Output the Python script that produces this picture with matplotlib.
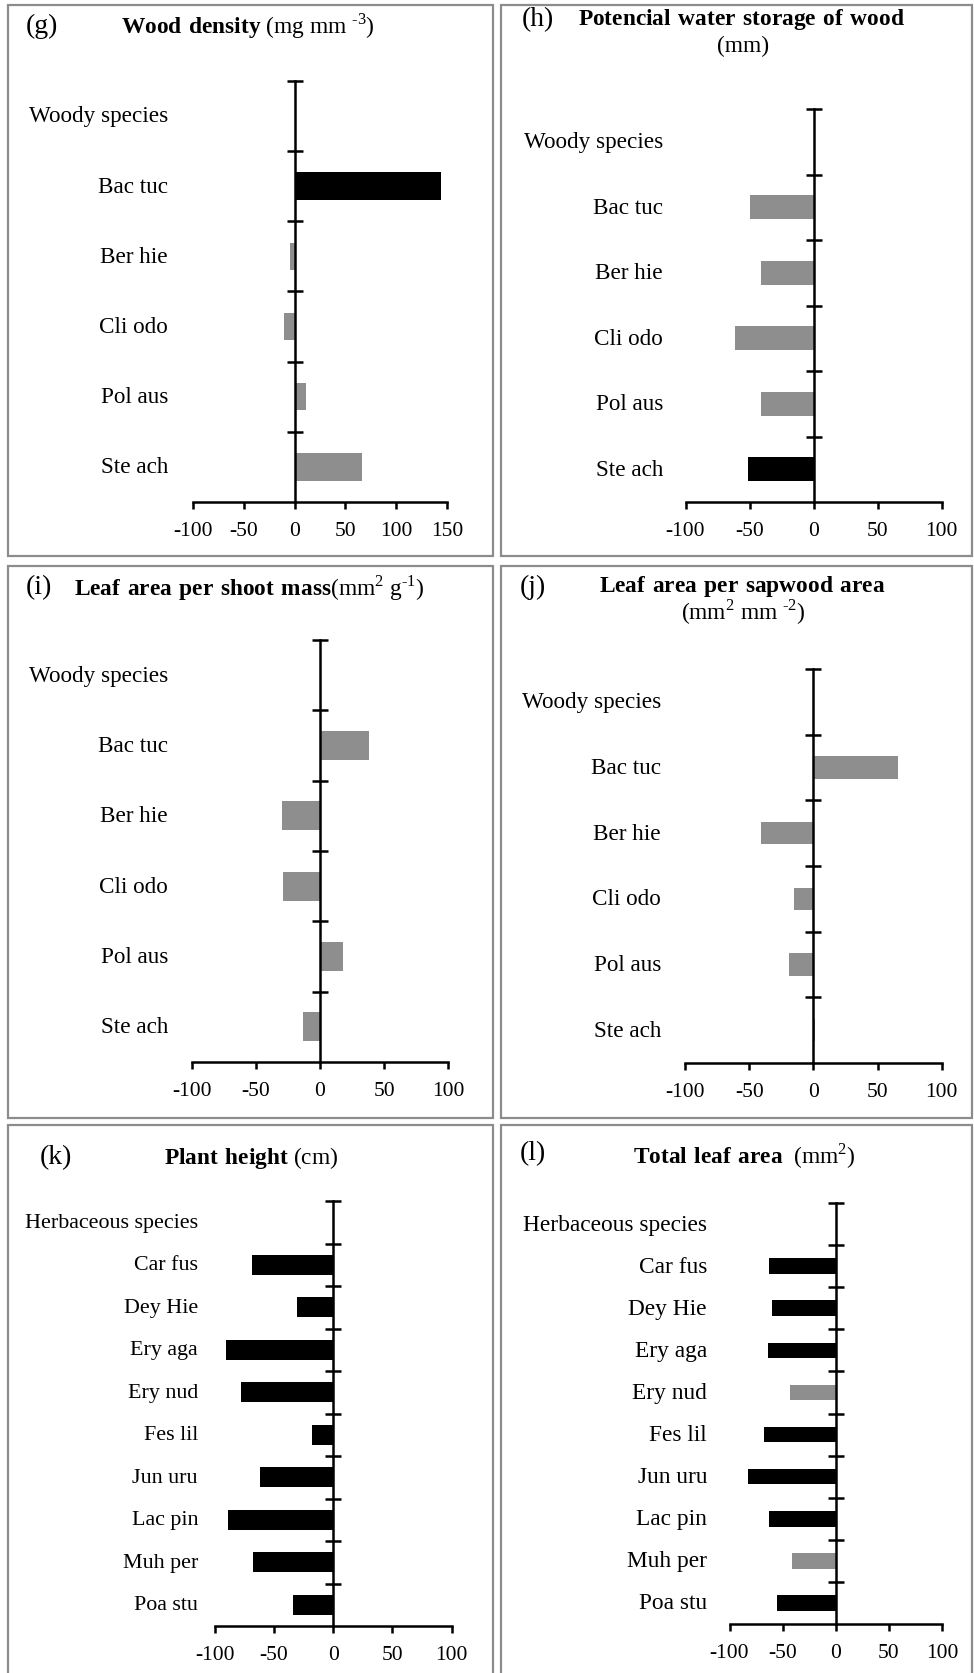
import matplotlib.pyplot as plt
from matplotlib.patches import Rectangle
from matplotlib.transforms import blended_transform_factory

plt.rcParams['font.family'] = ['Liberation Serif', 'DejaVu Serif']
plt.rcParams['mathtext.fontset'] = 'custom'
plt.rcParams['mathtext.rm'] = 'Liberation Serif'
plt.rcParams['mathtext.bf'] = 'Liberation Serif:bold'
plt.rcParams['axes.unicode_minus'] = False

W, H = 974, 1674
BLACK = '#000000'
GRAY = '#8e8e8e'

# species
woody = ["Bac tuc", "Ber hie", "Cli odo", "Pol aus", "Ste ach"]
herbs = ["Car fus", "Dey Hie", "Ery aga", "Ery nud", "Fes lil",
         "Jun uru", "Lac pin", "Muh per", "Poa stu"]

# values (%) and which bars are significant (drawn black)
wood_density = [144, -4.5, -10, 11.5, 66]
wood_density_sig = [1, 0, 0, 0, 0]
water_storage = [-50, -41, -61, -41, -51.5]
water_storage_sig = [0, 0, 0, 0, 1]
leaf_shoot = [38, -30, -29, 18, -13]
leaf_shoot_sig = [0, 0, 0, 0, 0]
leaf_sapwood = [66, -41, -15, -19, 1]
leaf_sapwood_sig = [0, 0, 0, 0, 0]
plant_height = [-69, -31, -90.5, -78, -18, -62, -89, -67.5, -34]
plant_height_sig = [1, 1, 1, 1, 1, 1, 1, 1, 1]
total_leaf = [-62.5, -60, -64, -43.5, -68, -83, -62.5, -41.5, -55.5]
total_leaf_sig = [1, 1, 1, 0, 1, 1, 1, 0, 1]


def box(fig, x0, y0, x1, y1):
    fig.add_artist(Rectangle((x0 / W, 1 - y1 / H), (x1 - x0) / W, (y1 - y0) / H,
                             transform=fig.transFigure, fill=False,
                             ec='#8c8c8c', lw=1.6, clip_on=False))


def panel(fig, rect, header, species, values, sig, xmax, bar_h, label_right, fs):
    x0, x1, y0, y1 = rect
    ax = fig.add_axes([x0 / W, 1 - y1 / H, (x1 - x0) / W, (y1 - y0) / H])
    n = len(species) + 1
    pos = list(range(1, n))
    colors = [BLACK if s else GRAY for s in sig]
    ax.barh(pos, values, height=bar_h, color=colors, zorder=1)
    ax.set_xlim(-100, xmax)
    ax.set_ylim(n - 0.5, -0.5)
    for s in ['top', 'right']:
        ax.spines[s].set_visible(False)
    ax.spines['left'].set_position(('data', 0))
    ax.spines['left'].set_zorder(3)
    for s in ['left', 'bottom']:
        ax.spines[s].set_linewidth(1.8)
    ax.set_yticks([i - 0.5 for i in range(n)])
    ax.set_yticklabels([])
    ax.tick_params(axis='y', direction='inout', length=11, width=1.8)
    ax.set_xticks(list(range(-100, xmax + 1, 50)))
    ax.tick_params(axis='x', direction='out', length=5, width=1.8,
                   labelsize=15.5, pad=9)
    ax.patch.set_visible(False)

    tr = blended_transform_factory(ax.transAxes, ax.transData)
    lx = (label_right - x0) / (x1 - x0)
    for i, name in enumerate([header] + species):
        ax.text(lx, i, name, transform=tr, ha='right', va='center',
                fontsize=fs, clip_on=False)
    return ax


def title(fig, x, y, s, **kw):
    fig.text(x / W, 1 - y / H, s, ha='center', va='center', fontsize=16.8, **kw)


def letter(fig, x, y, s):
    fig.text(x / W, 1 - y / H, s, ha='left', va='center', fontsize=20)


fig = plt.figure(figsize=(9.74, 16.74), dpi=100)

box(fig, 8, 6, 493, 557)
box(fig, 501, 6, 972, 557)
box(fig, 8, 567, 493, 1119)
box(fig, 501, 567, 972, 1119)
box(fig, 8, 1126, 493, 1690)
box(fig, 501, 1126, 972, 1690)

panel(fig, (193, 447, 81.7, 503), "Woody species", woody, wood_density,
      wood_density_sig, 150, 0.39, 168, 16.7)
panel(fig, (685.5, 941.5, 110, 503), "Woody species", woody, water_storage,
      water_storage_sig, 100, 0.36, 663, 16.7)
panel(fig, (191.7, 448.3, 641, 1063), "Woody species", woody, leaf_shoot,
      leaf_shoot_sig, 100, 0.41, 168, 16.7)
panel(fig, (685, 941.7, 670, 1064), "Woody species", woody, leaf_sapwood,
      leaf_sapwood_sig, 100, 0.34, 661, 16.7)
panel(fig, (215, 451.5, 1202, 1627), "Herbaceous species", herbs, plant_height,
      plant_height_sig, 100, 0.48, 198, 15.8)
panel(fig, (729.5, 942, 1204, 1625), "Herbaceous species", herbs, total_leaf,
      total_leaf_sig, 100, 0.37, 707, 16.8)

letter(fig, 26, 26, "(g)")
title(fig, 248, 26, r"$\mathbf{Wood\ density}$ (mg mm $^{\text{-3}}$)")
letter(fig, 522, 20, "(h)")
title(fig, 741, 20, r"$\mathbf{Potencial\ water\ storage\ of\ wood}$")
title(fig, 743, 46, "(mm)")
letter(fig, 26, 588, "(i)")
title(fig, 249, 588, r"$\mathbf{Leaf\ area\ per\ shoot\ mass}$(mm$^{2}$ g$^{\text{-1}}$)")
letter(fig, 520, 587, "(j)")
title(fig, 742, 587, r"$\mathbf{Leaf\ area\ per\ sapwood\ area}$")
title(fig, 743, 612, r"(mm$^{2}$ mm $^{\text{-2}}$)")
letter(fig, 40, 1158, "(k)")
title(fig, 251, 1158, r"$\mathbf{Plant\ height}$ (cm)")
letter(fig, 520, 1154, "(l)")
title(fig, 744, 1156, r"$\mathbf{Total\ leaf\ area}$  (mm$^{2}$)")

plt.savefig("out.png", dpi=100)
